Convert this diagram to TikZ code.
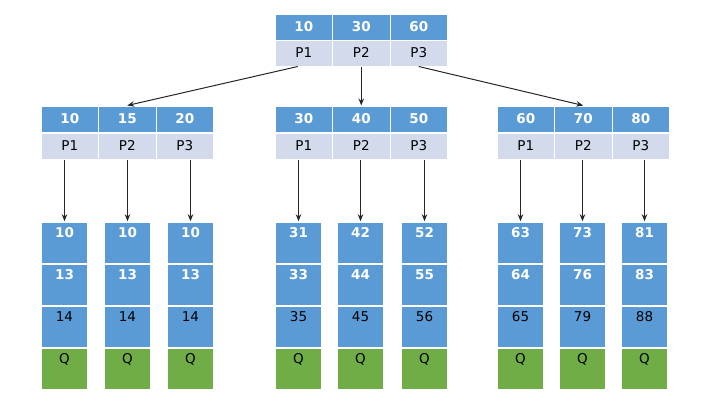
\documentclass[tikz,border=0pt]{standalone}
\usepackage{fontspec}
\usetikzlibrary{arrows.meta}
\setmainfont{DejaVu Sans}
\definecolor{keyblue}{HTML}{5B9BD5}
\definecolor{ptrgray}{HTML}{D3DAEC}
\definecolor{leafgreen}{HTML}{70AD47}

\begin{document}
\begin{tikzpicture}[x=1pt,y=-1pt,
  key/.style={fill=keyblue,draw=white,line width=1pt,minimum width=57.5pt,
    minimum height=26pt,inner sep=0pt,text height=9.8pt,text depth=0pt,
    text=white,font=\bfseries\fontsize{13.5}{13.5}\selectfont},
  ptr/.style={key,fill=ptrgray,text=black,font=\fontsize{13.5}{13.5}\selectfont},
  cell/.style={fill=keyblue,draw=white,line width=1.5pt,minimum width=47pt,
    minimum height=42pt,inner sep=0pt,text height=15pt,text depth=27pt,
    text=white,font=\bfseries\fontsize{13.5}{13.5}\selectfont},
  plain/.style={cell,text=black,font=\fontsize{13.5}{13.5}\selectfont},
  qcell/.style={plain,fill=leafgreen},
  link/.style={-{Stealth[length=7pt,width=5.5pt]},line width=1pt,black!85}]
\useasboundingbox (0,0) rectangle (720,405);
% root
\foreach \k [count=\i] in {10,30,60}
{
  \node[key] (t\i) at ({275+57.5*\i-28.75},27) {\k};
  \node[ptr] (tp\i) at ({275+57.5*\i-28.75},53) {P\i};
}
% second level
\foreach \g/\x/\ka/\kb/\kc in {a/41/10/15/20, b/275/30/40/50, c/497/60/70/80}
{
  \foreach \k [count=\i] in {\ka,\kb,\kc}
  {
    \node[key] (\g\i) at ({\x+57.5*\i-28.75},119) {\k};
    \node[ptr] (\g p\i) at ({\x+57.5*\i-28.75},146) {P\i};
  }
}
\draw[link] ([xshift=-6pt]tp1.south) -- (a2.north);
\draw[link] (tp2.south) -- (b2.north);
\draw[link] (tp3.south) -- (c2.north);
% leaves
\foreach \x/\p/\ka/\kb/\kc [count=\n] in {64.5/ap1/10/13/14, 127.5/ap2/10/13/14,
  190.5/ap3/10/13/14, 298.5/bp1/31/33/35, 360.5/bp2/42/44/45, 424.5/bp3/52/55/56,
  520.5/cp1/63/64/65, 582.5/cp2/73/76/79, 644.5/cp3/81/83/88}
{
  \node[cell] (l\n-a) at (\x,243) {\ka};
  \node[cell] (l\n-b) at (\x,285) {\kb};
  \node[plain] (l\n-c) at (\x,327) {\kc};
  \node[qcell] (l\n-q) at (\x,369) {Q};
  \draw[link] (l\n-a.north |- \p.south) -- (l\n-a.north);
}
\end{tikzpicture}
\end{document}
